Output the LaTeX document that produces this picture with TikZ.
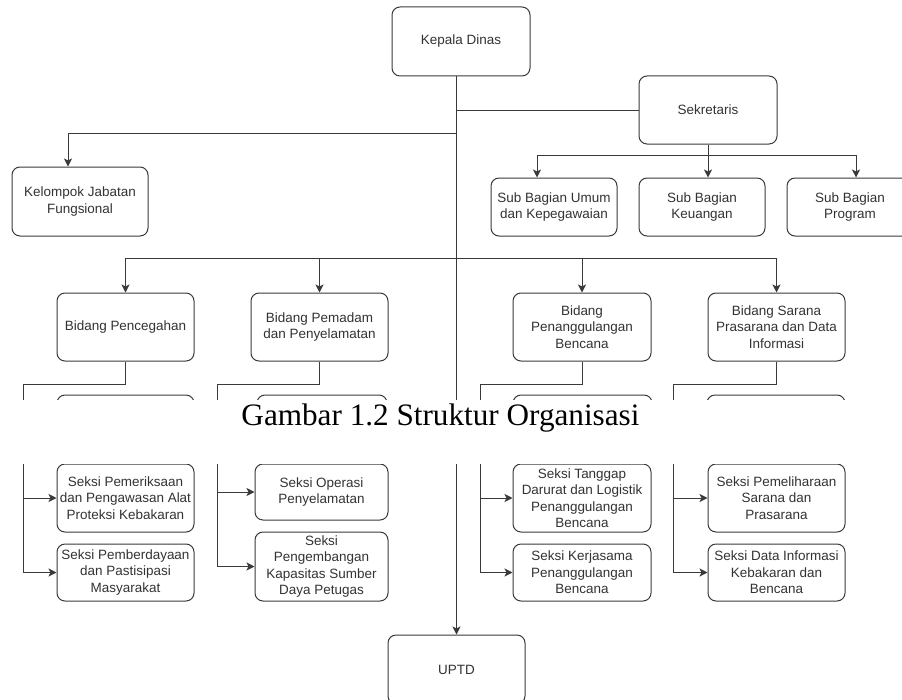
\documentclass[tikz,border=0pt]{standalone}
\usepackage{fontspec}
\setmainfont{Liberation Sans}
\newfontfamily\capfont{Liberation Serif}
\usetikzlibrary{arrows.meta}
\definecolor{lncol}{HTML}{3A3A3A}
\definecolor{txcol}{HTML}{333333}
\newcommand\orgbox[6]{\node[box,minimum width=#4*0.75pt,minimum height=#5*0.75pt] (#1) at (#2,#3) {#6};}
\begin{document}
\begin{tikzpicture}[x=0.75pt,y=-0.75pt,
  box/.style={draw=lncol, line width=0.75pt, rounded corners=6pt, fill=white, align=center,
    text=txcol, font=\fontsize{10.1}{12.4}\selectfont, inner sep=1pt},
  link/.style={draw=lncol, line width=0.75pt},
  arr/.style={draw=lncol, line width=0.75pt, -{Stealth[length=6pt,width=6pt,inset=1.5pt]}}]
\useasboundingbox (0,0) rectangle (902,699);
\clip (0,0) rectangle (902,699);

% top level
\orgbox{kd}{461}{41.5}{138}{69}{Kepala Dinas}
\orgbox{sek}{708}{110}{138}{68}{Sekretaris}
\orgbox{kjf}{80}{201.5}{136}{69}{Kelompok Jabatan\\Fungsional}
\orgbox{sbu}{554}{207}{126}{58}{Sub Bagian Umum\\dan Kepegawaian}
\orgbox{sbk}{702}{207}{126}{58}{Sub Bagian\\Keuangan}
\orgbox{sbp}{850}{207}{126}{58}{Sub Bagian\\Program}

% bidang
\orgbox{bp1}{125.5}{327}{137}{68}{Bidang Pencegahan}
\orgbox{bp2}{319.5}{327}{137}{68}{Bidang Pemadam\\dan Penyelamatan}
\orgbox{bp3}{582}{327}{138}{68}{Bidang\\Penanggulangan\\Bencana}
\orgbox{bp4}{776.5}{327}{137}{68}{Bidang Sarana\\Prasarana dan Data\\Informasi}

% seksi (lower part)
\orgbox{s12}{125.5}{498}{137}{68}{Seksi Pemeriksaan\\dan Pengawasan Alat\\Proteksi Kebakaran}
\orgbox{s13}{125.5}{572.5}{137}{57}{Seksi Pemberdayaan\\dan Pastisipasi\\Masyarakat}
\orgbox{s22}{321.5}{492}{133}{56}{Seksi Operasi\\Penyelamatan}
\orgbox{s23}{321.5}{566.5}{133}{69}{Seksi\\Pengembangan\\Kapasitas Sumber\\Daya Petugas}
\orgbox{s32}{582}{498}{138}{68}{Seksi Tanggap\\Darurat dan Logistik\\Penanggulangan\\Bencana}
\orgbox{s33}{582}{572.5}{138}{57}{Seksi Kerjasama\\Penanggulangan\\Bencana}
\orgbox{s42}{776.5}{498}{137}{68}{Seksi Pemeliharaan\\Sarana dan\\Prasarana}
\orgbox{s43}{776.5}{572.5}{137}{57}{Seksi Data Informasi\\Kebakaran dan\\Bencana}

\orgbox{uptd}{456.5}{669.5}{137}{69}{UPTD}

% trunk
\draw[arr] (kd.south -| uptd) -- (uptd.north);
\coordinate (ts) at (456.5,110);
\draw[link] (ts) -- (sek.west);
\coordinate (tj) at (456.5,133);
\coordinate (jf) at (68,133);
\draw[link] (tj) -- (jf);
\draw[arr] (jf) -- (jf |- kjf.north);

% sekretaris
\coordinate (sa) at (537,155);
\coordinate (sc) at (856,155);
\draw[link] (sek.south) -- (sek.south |- sa);
\draw[link] (sa) -- (sc);
\draw[arr] (sa) -- (sa |- sbu.north);
\draw[arr] (sek.south |- sa) -- (sek.south |- sbk.north);
\draw[arr] (sc) -- (sc |- sbp.north);

% bidang bus
\coordinate (bus) at (456.5,258);
\draw[link] (bus -| bp1) -- (bus -| bp4);
\foreach \b in {bp1,bp2,bp3,bp4} \draw[arr] (bus -| \b) -- (\b.north);

% bidang to seksi
\coordinate (c1) at (23,384);
\coordinate (c2) at (217,384);
\coordinate (c3) at (480,384);
\coordinate (c4) at (673,384);
\draw[link] (bp1.south) -- (bp1.south |- c1) -- (c1) -- (c1 |- s13.west);
\draw[link] (bp2.south) -- (bp2.south |- c2) -- (c2) -- (c2 |- s23.west);
\draw[link] (bp3.south) -- (bp3.south |- c3) -- (c3) -- (c3 |- s33.west);
\draw[link] (bp4.south) -- (bp4.south |- c4) -- (c4) -- (c4 |- s43.west);
\draw[arr] (c1 |- s12.west) -- (s12.west);
\draw[arr] (c1 |- s13.west) -- (s13.west);
\draw[arr] (c2 |- s22.west) -- (s22.west);
\draw[arr] (c2 |- s23.west) -- (s23.west);
\draw[arr] (c3 |- s32.west) -- (s32.west);
\draw[arr] (c3 |- s33.west) -- (s33.west);
\draw[arr] (c4 |- s42.west) -- (s42.west);
\draw[arr] (c4 |- s43.west) -- (s43.west);

% tops of the first seksi boxes, cut by the caption band
\begin{scope}
  \clip (0,380) rectangle (902,400);
  \foreach \a/\b in {57/194,257/387,513/652,707/845}
    \draw[link, rounded corners=6pt] (\a,395) rectangle (\b,450);
\end{scope}

% caption band
\fill[white] (0,400) rectangle (902,463.5);
\node[anchor=base, inner sep=0pt, font=\capfont\fontsize{23.4}{28}\selectfont] (cap) at (440.5,425) {Gambar 1.2 Struktur Organisasi};
\end{tikzpicture}
\end{document}
